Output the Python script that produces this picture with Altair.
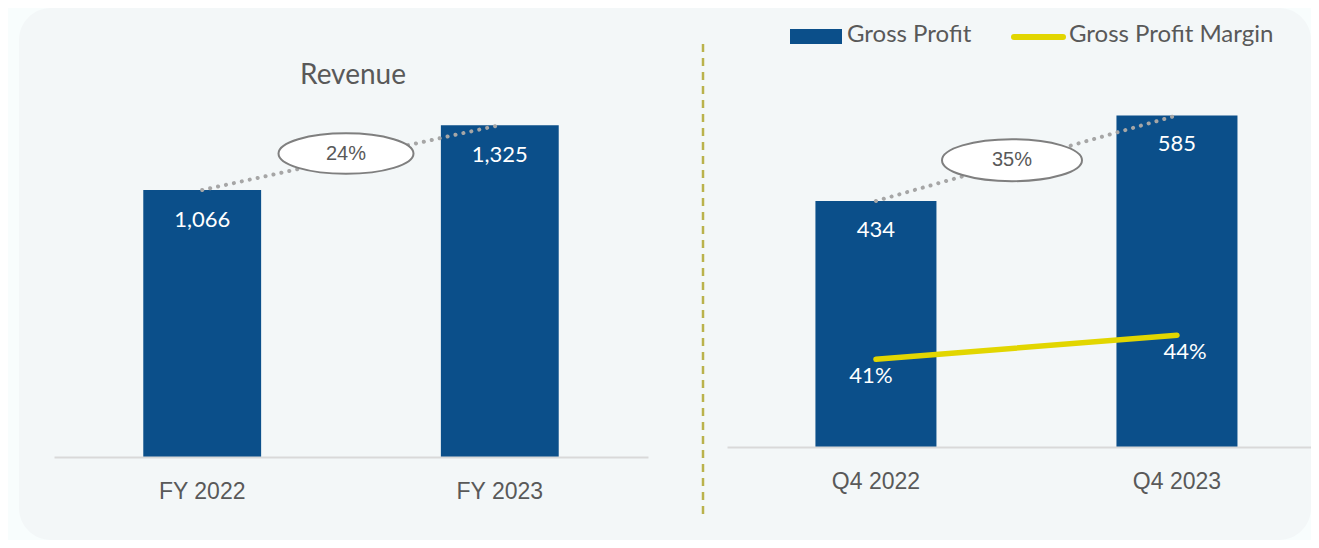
import altair as alt
import pandas as pd

# ---------------- data ----------------
rev_periods = ["FY 2022", "FY 2023"]
rev_values = [1066, 1325]
rev_growth = "24%"
rev_title = "Revenue"

gp_periods = ["Q4 2022", "Q4 2023"]
gp_values = [434, 585]
gp_margin = [41, 44]
gp_growth = "35%"

legend_labels = ["Gross Profit", "Gross Profit Margin"]

# ---------------- style ----------------
BLUE = "#0b4f8a"
YELLOW = "#e2d600"
GREY_TXT = "#595959"
DOT_GREY = "#a6a6a6"
PANEL = "#f3f7f8"
OUTER = "#f8fdfd"
DIVIDER = "#bab24c"
ELLIPSE = ("M -1 0 C -1 -0.1657 -0.5523 -0.3 0 -0.3 C 0.5523 -0.3 1 -0.1657 1 0 "
           "C 1 0.1657 0.5523 0.3 0 0.3 C -0.5523 0.3 -1 0.1657 -1 0 Z")

one = alt.Data(values=[{"k": 1}])


def x_axis():
    return alt.Axis(title=None, labelAngle=0, ticks=False, tickSize=0, grid=False,
                    domainColor="#d9d9d9", domainWidth=2, zindex=1,
                    labelFont="Liberation Sans", labelFontSize=23,
                    labelColor=GREY_TXT, labelPadding=23)


# ---------------- left panel: Revenue ----------------
LW, LH = 594, 417
ydom_l = [0, 1665]
rev_df = pd.DataFrame({"period": rev_periods, "value": rev_values,
                       "label": [f"{v:,}" for v in rev_values]})
xl = alt.X("period:N", sort=rev_periods,
           scale=alt.Scale(paddingInner=0.604, paddingOuter=0.3, align=0.5),
           axis=x_axis())
yl = alt.Y("value:Q", scale=alt.Scale(domain=ydom_l), axis=None)

bg = alt.Chart(one).mark_rect(color=PANEL, cornerRadius=32).encode(
    x=alt.value(-35), x2=alt.value(1257), y=alt.value(-32), y2=alt.value(500))
bars_l = alt.Chart(rev_df).mark_bar(color=BLUE).encode(x=xl, y=yl)
dots_l = alt.Chart(rev_df).mark_line(color=DOT_GREY, strokeWidth=4, strokeDash=[0.1, 8],
                                     strokeCap="round").encode(x=xl, y=yl)
ell_l_df = pd.DataFrame({"value": [sum(rev_values) / 2], "label": [rev_growth]})
ell_l = alt.Chart(ell_l_df).mark_point(shape=ELLIPSE, size=135 ** 2, filled=True, fill="white",
                                       stroke="#7f7f7f", strokeWidth=2, opacity=1,
                                       yOffset=-4).encode(x=alt.value(292), y=yl)
ell_lt = alt.Chart(ell_l_df).mark_text(font="Liberation Sans", fontSize=20, color=GREY_TXT,
                                       dy=-4).encode(x=alt.value(292), y=yl, text="label:N")
lab_l = alt.Chart(rev_df).mark_text(color="white", font="Lato", fontSize=22,
                                    baseline="middle", dy=30).encode(x=xl, y=yl, text="label:N")
title_l = alt.Chart(one).mark_text(text=rev_title, font="Lato", fontSize=28, color=GREY_TXT,
                                   baseline="middle").encode(x=alt.value(299), y=alt.value(36))

left = alt.layer(bg, bars_l, dots_l, ell_l, ell_lt, lab_l, title_l).properties(width=LW, height=LH)

# ---------------- right panel: Gross Profit ----------------
RW, RH = 584, 407
ydom_r = [0, 718]
mdom = [30, 81]
gp_df = pd.DataFrame({"period": gp_periods, "value": gp_values, "margin": gp_margin,
                      "label": [f"{v:,}" for v in gp_values],
                      "mlabel": [f"{m}%" for m in gp_margin]})
xr = alt.X("period:N", sort=gp_periods,
           scale=alt.Scale(paddingInner=0.598, paddingOuter=0.269, align=0.546),
           axis=x_axis())
yr = alt.Y("value:Q", scale=alt.Scale(domain=ydom_r), axis=None)
ym = alt.Y("margin:Q", scale=alt.Scale(domain=mdom), axis=None)

bars_r = alt.Chart(gp_df).mark_bar(color=BLUE).encode(x=xr, y=yr)
dots_r = alt.Chart(gp_df).mark_line(color=DOT_GREY, strokeWidth=4, strokeDash=[0.1, 8],
                                    strokeCap="round").encode(x=xr, y=yr)
ell_r_df = pd.DataFrame({"value": [sum(gp_values) / 2], "label": [gp_growth]})
ell_r = alt.Chart(ell_r_df).mark_point(shape=ELLIPSE, size=140 ** 2, filled=True, fill="white",
                                       stroke="#7f7f7f", strokeWidth=2, opacity=1,
                                       yOffset=2).encode(x=alt.value(285), y=yr)
ell_rt = alt.Chart(ell_r_df).mark_text(font="Liberation Sans", fontSize=20, color=GREY_TXT,
                                       dy=2).encode(x=alt.value(285), y=yr, text="label:N")
lab_r = alt.Chart(gp_df).mark_text(color="white", font="Lato", fontSize=22,
                                   baseline="middle", dy=29).encode(x=xr, y=yr, text="label:N")
divider = alt.Chart(one).mark_rule(color=DIVIDER, strokeWidth=2.5, strokeDash=[8, 6]).encode(
    x=alt.value(-24), y=alt.value(4), y2=alt.value(474))
leg_rect = alt.Chart(one).mark_rect(color=BLUE).encode(
    x=alt.value(63), x2=alt.value(115), y=alt.value(-11), y2=alt.value(4))
leg_t1 = alt.Chart(one).mark_text(text=legend_labels[0], font="Lato", fontSize=24, color=GREY_TXT,
                                  align="left", baseline="middle").encode(
    x=alt.value(120), y=alt.value(-5))
leg_line = alt.Chart(one).mark_rule(color=YELLOW, strokeWidth=6, strokeCap="round").encode(
    x=alt.value(287), x2=alt.value(336), y=alt.value(-3))
leg_t2 = alt.Chart(one).mark_text(text=legend_labels[1], font="Lato", fontSize=24, color=GREY_TXT,
                                  align="left", baseline="middle").encode(
    x=alt.value(342), y=alt.value(-5))

mline = alt.Chart(gp_df).mark_line(color=YELLOW, strokeWidth=5.5, strokeCap="round").encode(x=xr, y=ym)
mlab1 = alt.Chart(gp_df).transform_filter(alt.datum.period == gp_periods[0]).mark_text(
    color="white", font="Lato", fontSize=22, baseline="middle", dx=-5, dy=17).encode(
    x=xr, y=ym, text="mlabel:N")
mlab2 = alt.Chart(gp_df).transform_filter(alt.datum.period == gp_periods[1]).mark_text(
    color="white", font="Lato", fontSize=22, baseline="middle", dx=8, dy=17).encode(
    x=xr, y=ym, text="mlabel:N")

right = alt.layer(
    alt.layer(bars_r, dots_r, ell_r, ell_rt, lab_r, divider, leg_rect, leg_t1, leg_line, leg_t2),
    alt.layer(mline, mlab1, mlab2),
).resolve_scale(y="independent").properties(width=RW, height=RH)

chart = alt.hconcat(left, right, spacing=79, bounds="flush").properties(
    padding={"left": 11, "top": 0, "right": 0, "bottom": 0},
    background=OUTER,
).configure_view(strokeWidth=0)

chart.save("out.html", embed_options={"renderer": "svg", "actions": False})
